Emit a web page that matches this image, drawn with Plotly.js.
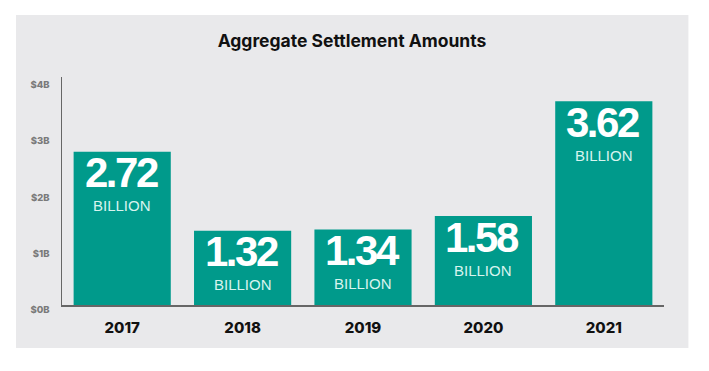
<!DOCTYPE html>
<html>
<head>
<meta charset="utf-8">
<script src="https://cdn.plot.ly/plotly-3.0.1.min.js"></script>
<style>html,body{margin:0;padding:0;background:#fff;}#chart{width:709px;height:371px;}#err{position:absolute;left:0;top:0;font:10px monospace;color:red;}</style>
</head>
<body>
<div id="chart"></div>
<div id="err"></div>
<script>
const years = ["2017", "2018", "2019", "2020", "2021"];
const amounts = [2.72, 1.32, 1.34, 1.58, 3.62];
const valueLabels = ["2.72", "1.32", "1.34", "1.58", "3.62"];
const unitLabel = "BILLION";
const yTickVals = [0, 1, 2, 3, 4];
const yTickText = ["$0B", "$1B", "$2B", "$3B", "$4B"];

const teal = "#009a8b";
const panel = "#e9e9eb";

const annotations = [];
years.forEach((yr, i) => {
  annotations.push({
    x: i, y: amounts[i], xref: "x", yref: "y",
    text: '<span style="letter-spacing:-2.5px">' + valueLabels[i] + '</span>',
    showarrow: false, xanchor: "center", yanchor: "middle", yshift: -21, xshift: -1,
    font: {family: "Liberation Sans, Arial, sans-serif", size: 42, color: "#ffffff", weight: "bold"}
  });
  annotations.push({
    x: i, y: amounts[i], xref: "x", yref: "y",
    text: unitLabel,
    showarrow: false, xanchor: "center", yanchor: "middle", yshift: -54,
    font: {family: "Liberation Sans, Arial, sans-serif", size: 15, color: "#d8f4ef"}
  });
});

const data = [{
  type: "bar",
  x: years,
  y: amounts,
  marker: {color: teal, line: {width: 0}},
  hoverinfo: "skip"
}];

const layout = {
  width: 709, height: 371,
  margin: {l: 62, r: 45.4, t: 77, b: 66, pad: 0},
  paper_bgcolor: "#ffffff",
  plot_bgcolor: panel,
  showlegend: false,
  bargap: 0.193,
  title: {
    text: "<b>Aggregate Settlement Amounts</b>",
    x: 352 / 709, xref: "container", xanchor: "center",
    y: 1 - 41/371, yref: "container", yanchor: "middle",
    font: {family: "Inter, Roboto, sans-serif", size: 17.5, color: "#111111", weight: 800}
  },
  xaxis: {
    type: "category",
    range: [-0.5, 4.5],
    showgrid: false, zeroline: false,
    showline: true, linecolor: "#666666", linewidth: 1.5,
    ticks: "", ticklabelstandoff: 8,
    tickfont: {family: "Inter, Roboto, sans-serif", size: 15, color: "#111111", weight: 800},
    fixedrange: true
  },
  yaxis: {
    range: [0, 4.05],
    showgrid: false, zeroline: false,
    showline: true, linecolor: "#666666", linewidth: 1.5,
    tickvals: yTickVals, ticktext: yTickText,
    ticks: "", ticklabelstandoff: 9, ticklabelshift: 5,
    tickfont: {family: "Inter, Roboto, sans-serif", size: 9.5, color: "#7a7a7a", weight: 800},
    fixedrange: true
  },
  shapes: [{
    type: "rect", layer: "below",
    xref: "paper", yref: "paper",
    x0: (16 - 62) / 601.6, x1: (688 - 62) / 601.6,
    y0: (305 - 348) / 228, y1: (305 - 15) / 228,
    fillcolor: panel, line: {width: 0}
  }],
  annotations: annotations
};

window.onerror = function(m){ document.getElementById('err').textContent += m; };
Plotly.newPlot("chart", data, layout, {displayModeBar: false, staticPlot: true})
  .catch(e => { document.getElementById('err').textContent += 'ERR ' + e; });
</script>
</body>
</html>
